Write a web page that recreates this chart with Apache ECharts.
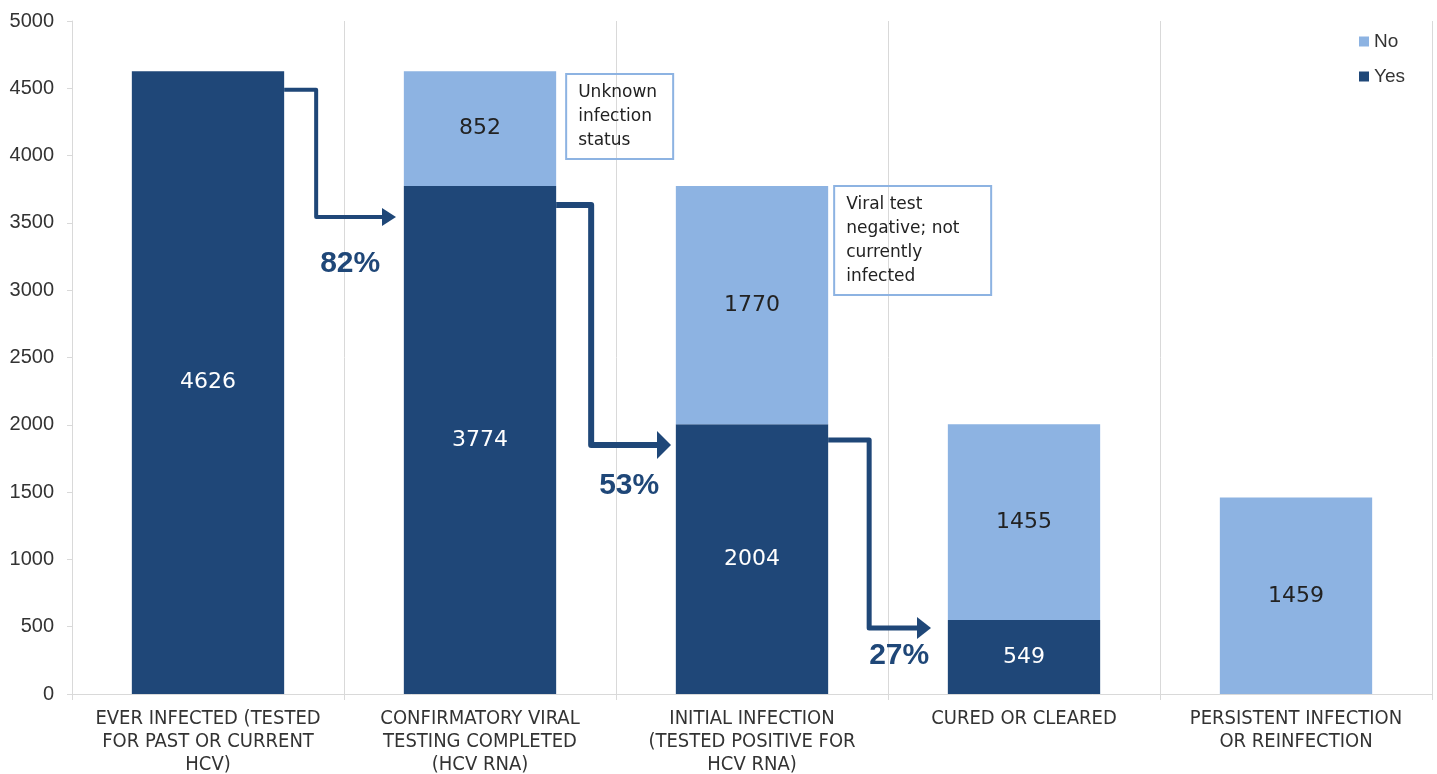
<!DOCTYPE html>
<html>
<head>
<meta charset="utf-8">
<script src="https://cdn.jsdelivr.net/npm/echarts@6/dist/echarts.min.js"></script>
<style>
  html, body { margin: 0; padding: 0; background: #fff; overflow: hidden; }
  #chart { width: 1437px; height: 774px; }
</style>
</head>
<body>
<div id="chart"></div>
<script>
// HCV care cascade: stacked counts per stage
const categories = [
  'EVER INFECTED (TESTED\nFOR PAST OR CURRENT\nHCV)',
  'CONFIRMATORY VIRAL\nTESTING COMPLETED\n(HCV RNA)',
  'INITIAL INFECTION\n(TESTED POSITIVE FOR\nHCV RNA)',
  'CURED OR CLEARED',
  'PERSISTENT INFECTION\nOR REINFECTION'
];
const yesValues = [4626, 3774, 2004, 549, null];
const noValues = [null, 852, 1770, 1455, 1459];
const yTicks = [0, 500, 1000, 1500, 2000, 2500, 3000, 3500, 4000, 4500, 5000];

// Flow arrows between stages: source category, start level, end level, share
const flowFrom = [0, 1, 2];
const flowStartLevel = [4490, 3633, 1887];
const flowEndLevel = [3544, 1850, 490];
const flowLabelLevel = [3195, 1550, 285];
const flowShare = ['82%', '53%', '27%'];

// Callout notes beside bars
const noteTexts = ['Unknown\ninfection\nstatus', 'Viral test\nnegative; not\ncurrently\ninfected'];
const noteCategory = [1, 2];
const noteTopLevel = [4606, 3774];

const DARK = '#1F4778';
const LIGHT = '#8DB3E2';
const GRID_GRAY = '#D9D9D9';
const SANS = '"Liberation Sans", Arimo, Arial, Helvetica, sans-serif';
const NARROW = '"Liberation Sans Narrow", "Arial Narrow", "DejaVu Sans Condensed", sans-serif';
const VERDANA = '"DejaVu Sans", Verdana, sans-serif';

const chart = echarts.init(document.getElementById('chart'), null, { width: 1437, height: 774 });

chart.setOption({
  animation: false,
  grid: { left: 72, right: 5, top: 21, bottom: 80, containLabel: false, outerBoundsMode: 'none' },
  legend: {
    data: ['No', 'Yes'],
    orient: 'vertical',
    right: 27,
    top: 27,
    itemWidth: 10,
    itemHeight: 10,
    itemGap: 16,
    icon: 'rect',
    textStyle: { fontFamily: SANS, fontSize: 19, color: '#333' }
  },
  xAxis: {
    type: 'category',
    data: categories,
    axisLine: { show: true, lineStyle: { color: GRID_GRAY, width: 1 } },
    axisTick: { show: true, length: 6, lineStyle: { color: GRID_GRAY } },
    splitLine: { show: true, lineStyle: { color: GRID_GRAY, width: 1 } },
    axisLabel: {
      interval: 0,
      margin: 13,
      fontFamily: NARROW,
      fontSize: 20,
      lineHeight: 23,
      color: '#333',
      verticalAlign: 'top'
    }
  },
  yAxis: {
    type: 'value',
    min: yTicks[0],
    max: yTicks[yTicks.length - 1],
    interval: yTicks[1] - yTicks[0],
    axisLine: { show: true, lineStyle: { color: GRID_GRAY } },
    axisTick: { show: true, length: 5, lineStyle: { color: GRID_GRAY } },
    splitLine: { show: false },
    axisLabel: {
      margin: 18,
      fontFamily: SANS,
      fontSize: 20,
      color: '#333',
      formatter: (v) => String(v)
    }
  },
  series: [
    {
      name: 'Yes',
      type: 'bar',
      stack: 'total',
      barWidth: '56%',
      data: yesValues,
      itemStyle: { color: DARK },
      label: {
        show: true,
        position: 'inside',
        fontFamily: VERDANA,
        fontSize: 22,
        color: '#fff'
      }
    },
    {
      name: 'No',
      type: 'bar',
      stack: 'total',
      barWidth: '56%',
      data: noValues,
      itemStyle: { color: LIGHT },
      label: {
        show: true,
        position: 'inside',
        fontFamily: VERDANA,
        fontSize: 22,
        color: '#222'
      }
    }
  ]
});

// Overlay: elbow arrows, share labels and callout boxes, positioned in data space
function drawOverlay() {
  const px = (i, v) => chart.convertToPixel({ gridIndex: 0 }, [i, v]);
  const c0 = px(0, 0)[0];
  const c1 = px(1, 0)[0];
  const catW = c1 - c0;
  const halfBar = catW * 0.28;

  const arrowStyle = [
    { width: 4, head: 18, headLen: 14, elbow: 32, tipGap: 84 },
    { width: 6, head: 28, headLen: 14, elbow: 35, tipGap: 81 },
    { width: 5, head: 22, headLen: 14, elbow: 41, tipGap: 93 }
  ];
  const labelDx = [34, 38, 30];

  const elements = [];
  flowFrom.forEach((src, k) => {
    const st = arrowStyle[k];
    const startX = px(src, 0)[0] + halfBar;
    const y1 = px(src, flowStartLevel[k])[1];
    const y2 = px(src, flowEndLevel[k])[1];
    const elbowX = startX + st.elbow;
    const tipX = px(src + 1, 0)[0] - st.tipGap;
    const lineEnd = tipX - st.headLen + 1;
    elements.push({
      type: 'polyline',
      shape: { points: [[startX, y1], [elbowX, y1], [elbowX, y2], [lineEnd, y2]] },
      style: { stroke: DARK, lineWidth: st.width, fill: null, lineJoin: 'round' },
      z: 100
    });
    elements.push({
      type: 'polygon',
      shape: { points: [[lineEnd - 1, y2 - st.head / 2], [tipX, y2], [lineEnd - 1, y2 + st.head / 2]] },
      style: { fill: DARK },
      z: 100
    });
    const ly = px(src, flowLabelLevel[k])[1];
    elements.push({
      type: 'text',
      x: elbowX + labelDx[k],
      y: ly,
      style: {
        text: flowShare[k],
        fill: DARK,
        fontFamily: SANS,
        fontWeight: 'bold',
        fontSize: 30,
        align: 'center',
        verticalAlign: 'middle'
      },
      z: 100
    });
  });

  const noteSize = [[107, 85], [157, 109]];
  const noteGap = [10, 6];
  noteTexts.forEach((t, k) => {
    const left = px(noteCategory[k], 0)[0] + halfBar + noteGap[k];
    const top = px(noteCategory[k], noteTopLevel[k])[1];
    elements.push({
      type: 'rect',
      shape: { x: left, y: top, width: noteSize[k][0], height: noteSize[k][1] },
      style: { fill: null, stroke: LIGHT, lineWidth: 2 },
      z: 100
    });
    elements.push({
      type: 'text',
      x: left + 12,
      y: top + 7,
      style: {
        text: t,
        fill: '#222',
        fontFamily: VERDANA,
        fontSize: 17,
        lineHeight: 24,
        align: 'left',
        verticalAlign: 'top'
      },
      z: 100
    });
  });

  chart.setOption({ graphic: { elements: elements } });
}

drawOverlay();
</script>
</body>
</html>
